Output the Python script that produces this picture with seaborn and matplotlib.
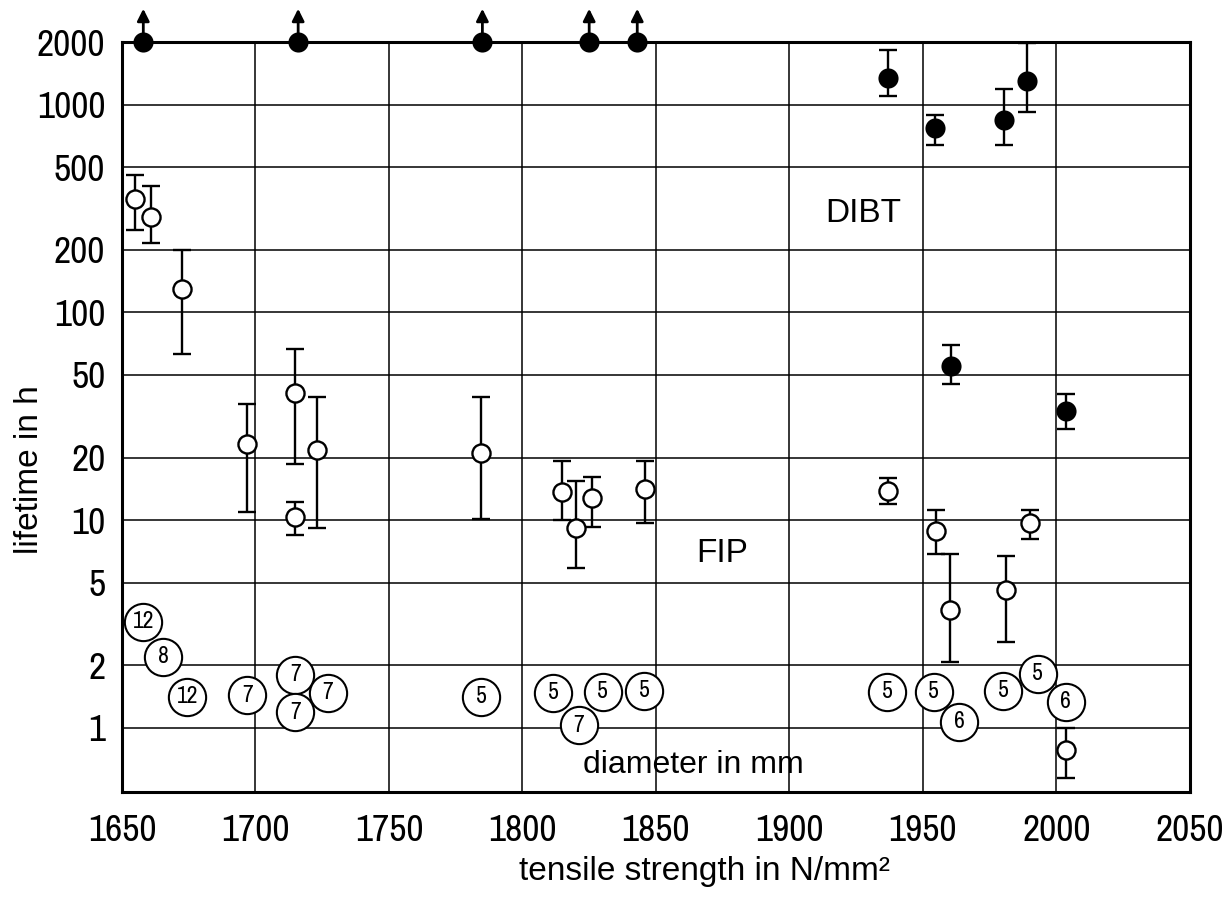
import numpy as np
import pandas as pd
import seaborn as sns
import matplotlib.pyplot as plt
from matplotlib import font_manager

# runouts (lifetime >= 2000 h, no failure)
runout_x = [1658, 1716, 1785, 1825, 1843]
runout_y = [2000, 2000, 2000, 2000, 2000]

# DIBT failures (filled)
dibt_x = [1937, 1954.5, 1980.5, 1989, 1960.5, 2003.5]
dibt_y = [1350, 770, 840, 1300, 55, 33.5]
dibt_lo = [1105, 642, 642, 925, 45, 27.4]
dibt_hi = [1840, 895, 1195, 1990, 69.5, 40.3]

# FIP failures (open)
fip_x = [1655, 1661, 1672.5, 1697, 1715, 1715, 1723, 1784.5, 1815, 1820, 1826, 1846,
         1937, 1955, 1960, 1981, 1990, 2003.5]
fip_y = [353, 289, 130, 23.2, 40.8, 10.3, 21.7, 21, 13.6, 9.2, 12.8, 14.1,
         13.8, 8.9, 3.7, 4.6, 9.7, 0.78]
fip_lo = [248, 217, 63, 10.9, 18.6, 8.5, 9.2, 10.1, 10, 5.9, 9.3, 9.7,
          11.9, 6.9, 2.08, 2.6, 8.1, 0.575]
fip_hi = [461, 404, 200, 36.1, 66.4, 12.2, 39, 39, 19.2, 15.4, 16.1, 19.2,
          15.9, 11.2, 6.9, 6.7, 11.2, 1.0]

# wire diameters (circled labels)
diam_x = [1658, 1665.5, 1674.5, 1697, 1715, 1727, 1715, 1784.5, 1811.5, 1830, 1845.5, 1821,
          1936.5, 1954, 1963.5, 1980, 1993, 2003.5]
diam_y = [3.23, 2.19, 1.41, 1.43, 1.80, 1.47, 1.19, 1.41, 1.47, 1.49, 1.51, 1.03,
          1.49, 1.49, 1.07, 1.51, 1.82, 1.33]
diam_mm = ["12", "8", "12", "7", "7", "7", "7", "5", "5", "5", "5", "7",
           "5", "5", "6", "5", "5", "6"]

x_ticks = [1650, 1700, 1750, 1800, 1850, 1900, 1950, 2000, 2050]
y_ticks = [1, 2, 5, 10, 20, 50, 100, 200, 500, 1000, 2000]

sns.set_theme(style="white")
plt.rcParams.update({
    'font.family': ['Liberation Sans', 'DejaVu Sans'],
    'axes.edgecolor': 'black',
    'axes.linewidth': 2.2,
    'xtick.direction': 'out',
    'ytick.direction': 'out',
    'text.color': 'black',
    'axes.labelcolor': 'black',
    'xtick.color': 'black',
    'ytick.color': 'black',
})

# narrow font for the numbers if one is installed
narrow = [f.name for f in font_manager.fontManager.ttflist
          if 'Narrow' in f.name or 'Condensed' in f.name]
if narrow:
    tick_font = [narrow[0], 'Liberation Sans']
    tick_size = 27
    circ_size = 17
else:
    tick_font = ['Liberation Sans']
    tick_size = 21
    circ_size = 14

fig = plt.figure(figsize=(12.28, 8.99), dpi=100)
ax = fig.add_axes([0.0993, 0.119, 0.8697, 0.834])
ax.set_yscale('log')
ax.set_xlim(1650, 2050)
ax.set_ylim(0.49, 2000)

# grid
for xv in x_ticks[1:-1]:
    ax.axvline(xv, color='black', lw=1.1, zorder=0)
for yv in y_ticks[:-1]:
    ax.axhline(yv, color='black', lw=1.1, zorder=0)

# error bars
fip_err = [np.array(fip_y) - np.array(fip_lo), np.array(fip_hi) - np.array(fip_y)]
ax.errorbar(fip_x, fip_y, yerr=fip_err, fmt='none', ecolor='black',
            elinewidth=1.7, capsize=6.5, capthick=1.7, zorder=2)
dibt_err = [np.array(dibt_y) - np.array(dibt_lo), np.array(dibt_hi) - np.array(dibt_y)]
ax.errorbar(dibt_x, dibt_y, yerr=dibt_err, fmt='none', ecolor='black',
            elinewidth=1.7, capsize=6.5, capthick=1.7, zorder=2)

# markers
fip_df = pd.DataFrame({'x': fip_x, 'y': fip_y})
sns.scatterplot(data=fip_df, x='x', y='y', ax=ax, s=170, marker='o',
                facecolor='white', edgecolor='black', linewidth=1.7, zorder=3)
dibt_df = pd.DataFrame({'x': dibt_x + runout_x, 'y': dibt_y + runout_y})
sns.scatterplot(data=dibt_df, x='x', y='y', ax=ax, s=210, marker='o',
                color='black', edgecolor='black', linewidth=0, zorder=3, clip_on=False)

# arrows on runouts
for xv, yv in zip(runout_x, runout_y):
    ax.annotate('', xy=(xv, yv * 1.45), xytext=(xv, yv), annotation_clip=False,
                arrowprops=dict(arrowstyle='-|>', color='black', lw=2, mutation_scale=18,
                                shrinkA=0, shrinkB=0))

# circled diameters
diam_df = pd.DataFrame({'x': diam_x, 'y': diam_y})
sns.scatterplot(data=diam_df, x='x', y='y', ax=ax, s=720, marker='o',
                facecolor='white', edgecolor='black', linewidth=1.5, zorder=4)
for xv, yv, t in zip(diam_x, diam_y, diam_mm):
    ax.text(xv, yv, t, ha='center', va='center', fontsize=circ_size, family=tick_font, zorder=5)

ax.text(1927.5, 300, 'DIBT', ha='center', va='center', fontsize=24)
ax.text(1875, 6.9, 'FIP', ha='center', va='center', fontsize=24)
ax.text(1864, 0.66, 'diameter in mm', ha='center', va='center', fontsize=23)

ax.set_xticks(x_ticks)
ax.set_xticklabels([str(v) for v in x_ticks], family=tick_font, fontsize=tick_size)
ax.set_yticks(y_ticks)
ax.set_yticklabels([str(v) for v in y_ticks], family=tick_font, fontsize=tick_size)
ax.yaxis.set_minor_locator(plt.NullLocator())
ax.tick_params(axis='both', length=7, width=1.5, color='black')
ax.tick_params(axis='x', pad=9)
ax.tick_params(axis='y', pad=5)

ax.set_xlabel('tensile strength in N/mm²', fontsize=24)
ax.set_ylabel('lifetime in h', fontsize=24)
ax.xaxis.set_label_coords(0.545, -0.085)
ax.yaxis.set_label_coords(-0.072, 0.43)

plt.savefig('out.png', dpi=100)
plt.close()
